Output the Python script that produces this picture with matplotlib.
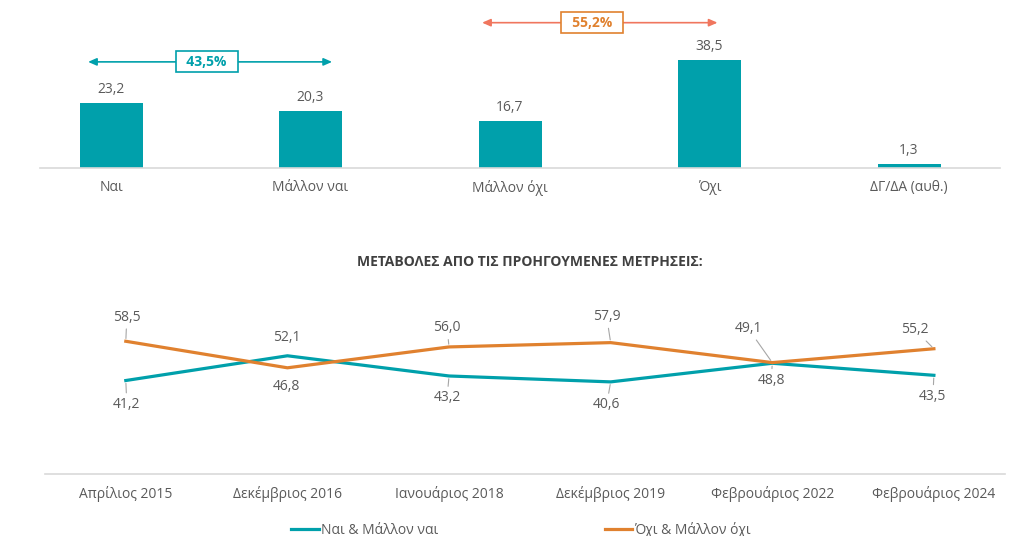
import matplotlib
matplotlib.use('Agg')
import matplotlib.pyplot as plt

plt.rcParams['font.family'] = ['Open Sans', 'DejaVu Sans']

# top chart data
cats = ['Ναι', 'Μάλλον ναι', 'Μάλλον όχι', 'Όχι', 'ΔΓ/ΔΑ (αυθ.)']
vals = [23.2, 20.3, 16.7, 38.5, 1.3]
yes_total = '43,5%'
no_total = '55,2%'

# bottom chart data
dates = ['Απρίλιος 2015', 'Δεκέμβριος 2016', 'Ιανουάριος 2018',
         'Δεκέμβριος 2019', 'Φεβρουάριος 2022', 'Φεβρουάριος 2024']
yes_series = [41.2, 52.1, 43.2, 40.6, 48.8, 43.5]
no_series = [58.5, 46.8, 56.0, 57.9, 49.1, 55.2]
yes_name = 'Ναι & Μάλλον ναι'
no_name = 'Όχι & Μάλλον όχι'
title = 'ΜΕΤΑΒΟΛΕΣ ΑΠΟ ΤΙΣ ΠΡΟΗΓΟΥΜΕΝΕΣ ΜΕΤΡΗΣΕΙΣ:'

teal = '#00A0AB'
orange = '#E0812F'
salmon = '#F0765E'
txt = '#5A5A5A'
grid = '#D9D9D9'

# label offsets in pixels (dx, dy) and leader line flags
no_off = [(1, 24), (-1, -19), (-2, 19), (-4, 26), (-24, 34), (-19, 19)]
yes_off = [(1, -24), (-1, 18), (-2, -22), (-4, -23), (-1, -17), (-1, -21)]
no_lead = [True, False, True, True, True, True]
yes_lead = [True, False, True, True, True, True]

fig = plt.figure(figsize=(10.09, 5.36), dpi=100)

# ---------- bars ----------
ax1 = fig.add_axes([40/1009, 368/536, 960/1009, 168/536])
x = range(len(cats))
ax1.bar(x, vals, width=0.316, color=teal)
for i, v in enumerate(vals):
    ax1.annotate(f'{v:.1f}'.replace('.', ','), (i, v), xytext=(0, 6),
                 textcoords='offset pixels', ha='center', va='bottom',
                 fontsize=10, color=txt)
ax1.set_xlim(-0.356, 4.456)
ax1.set_ylim(0, 60)
ax1.set_xticks(list(x))
ax1.set_xticklabels(cats, fontsize=10, color=txt)
ax1.tick_params(axis='x', length=0, pad=8.5)
ax1.set_yticks([])
for s in ['top', 'left', 'right']:
    ax1.spines[s].set_visible(False)
ax1.spines['bottom'].set_color(grid)
ax1.spines['bottom'].set_linewidth(1.2)

# bracket arrows
ax1.annotate('', xy=(-0.115, 37.9), xytext=(1.108, 37.9),
             arrowprops=dict(arrowstyle='<|-|>,head_length=0.5,head_width=0.22',
                             color=teal, lw=1.2, shrinkA=0, shrinkB=0),
             annotation_clip=False)
ax1.text(0.48, 37.9, '  ' + yes_total + '  ', ha='center', va='center',
         fontsize=10, fontweight='bold', color=teal,
         bbox=dict(boxstyle='square,pad=0.25', fc='white', ec=teal, lw=1.2))
ax1.annotate('', xy=(1.86, 51.9), xytext=(3.04, 51.9),
             arrowprops=dict(arrowstyle='<|-|>,head_length=0.5,head_width=0.22',
                             color=salmon, lw=1.2, shrinkA=0, shrinkB=0),
             annotation_clip=False)
ax1.text(2.41, 51.9, '  ' + no_total + '  ', ha='center', va='center',
         fontsize=10, fontweight='bold', color=orange,
         bbox=dict(boxstyle='square,pad=0.25', fc='white', ec=orange, lw=1.2))

# ---------- lines ----------
fig.text(530/1009, 1 - 262/536, title, ha='center', va='center',
         fontsize=10, fontweight='bold', color='#404040')

ax2 = fig.add_axes([45/1009, 62/536, 960/1009, 194/536])
xs = range(len(dates))
ax2.plot(xs, yes_series, color=teal, lw=2.3, label=yes_name)
ax2.plot(xs, no_series, color=orange, lw=2.3, label=no_name)

for series, offs, leads in [(no_series, no_off, no_lead), (yes_series, yes_off, yes_lead)]:
    for i, v in enumerate(series):
        dx, dy = offs[i]
        ap = None
        if leads[i]:
            ap = dict(arrowstyle='-', color='#A6A6A6', lw=0.8, shrinkA=1, shrinkB=2)
        ax2.annotate(f'{v:.1f}'.replace('.', ','), (i, v), xytext=(dx, dy),
                     textcoords='offset pixels', ha='center', va='center',
                     fontsize=10, color=txt, arrowprops=ap)

ax2.set_xlim(-0.5, 5.44)
ax2.set_ylim(0, 85.5)
ax2.set_xticks(list(xs))
ax2.set_xticklabels(dates, fontsize=10, color=txt)
ax2.tick_params(axis='x', length=0, pad=8.5)
ax2.set_yticks([])
for s in ['top', 'left', 'right']:
    ax2.spines[s].set_visible(False)
ax2.spines['bottom'].set_color(grid)
ax2.spines['bottom'].set_linewidth(1.2)

fig.legend(loc='center', bbox_to_anchor=(521/1009, 1 - 530/536), ncol=2,
           frameon=False, fontsize=10, handlelength=2.0, handletextpad=0.15,
           columnspacing=12, labelcolor=txt)

fig.savefig('out.png', dpi=100)
